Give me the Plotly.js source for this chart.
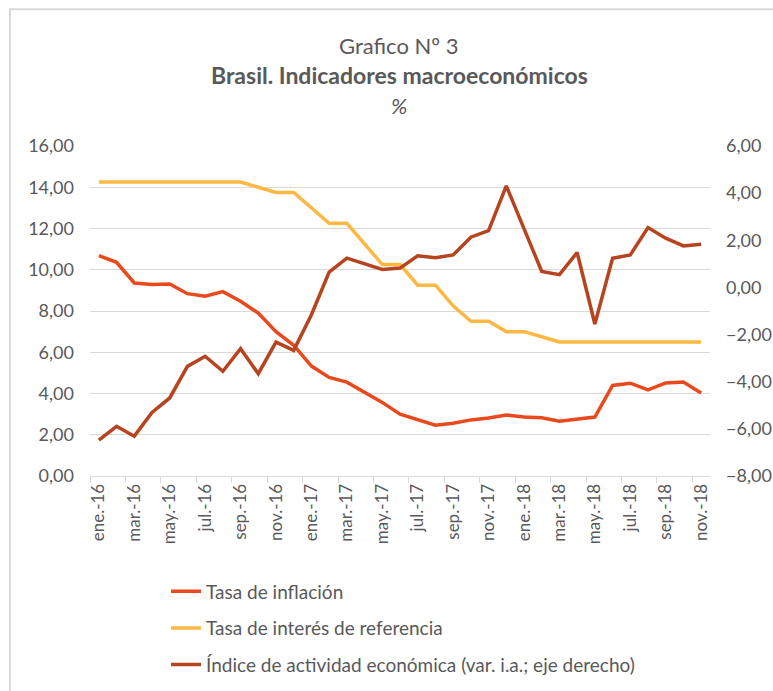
<!DOCTYPE html>
<html>
<head>
<meta charset="utf-8">
<script src="https://cdn.plot.ly/plotly-3.0.1.min.js"></script>
<style>
  html, body { margin: 0; padding: 0; background: #ffffff; }
  #chart { width: 773px; height: 691px; }
</style>
</head>
<body>
<div id="chart"></div>
<script>
const months = [
  "ene.-16","feb.-16","mar.-16","abr.-16","may.-16","jun.-16","jul.-16","ago.-16","sep.-16","oct.-16","nov.-16","dic.-16",
  "ene.-17","feb.-17","mar.-17","abr.-17","may.-17","jun.-17","jul.-17","ago.-17","sep.-17","oct.-17","nov.-17","dic.-17",
  "ene.-18","feb.-18","mar.-18","abr.-18","may.-18","jun.-18","jul.-18","ago.-18","sep.-18","oct.-18","nov.-18"
];

const inflacion = [
  10.68, 10.36, 9.36, 9.28, 9.31, 8.84, 8.72, 8.94, 8.47, 7.90, 7.00, 6.34,
  5.33, 4.78, 4.55, 4.05, 3.57, 3.00, 2.72, 2.46, 2.56, 2.72, 2.81, 2.96,
  2.86, 2.82, 2.66, 2.75, 2.86, 4.39, 4.50, 4.17, 4.51, 4.56, 4.02
];

const tasaInteres = [
  14.25, 14.25, 14.25, 14.25, 14.25, 14.25, 14.25, 14.25, 14.25, 14.00, 13.75, 13.75,
  13.00, 12.25, 12.25, 11.25, 10.25, 10.25, 9.25, 9.25, 8.25, 7.50, 7.50, 7.00,
  7.00, 6.75, 6.50, 6.50, 6.50, 6.50, 6.50, 6.50, 6.50, 6.50, 6.50
];

const actividad = [
  -6.48, -5.89, -6.31, -5.30, -4.69, -3.35, -2.92, -3.56, -2.60, -3.66, -2.32, -2.67,
  -1.16, 0.65, 1.24, 0.99, 0.76, 0.82, 1.34, 1.26, 1.38, 2.13, 2.41, 4.31,
  2.51, 0.68, 0.54, 1.48, -1.55, 1.24, 1.38, 2.54, 2.09, 1.76, 1.83
];

const seriesNames = [
  "Tasa de inflación",
  "Tasa de interés de referencia",
  "Índice de actividad económica (var. i.a.; eje derecho)"
];

const titleLines = [
  "Grafico Nº 3",
  "<b>Brasil. Indicadores macroeconómicos</b>",
  "<i>%</i>"
];

const FONT = "Lato, 'Open Sans', sans-serif";
const TXT = "#595959";
const GRID = "#d9d9d9";

// plot area in pixels
const L = 90, R = 710, T = 146, B = 476.5, W = 773, H = 691;
const px2x = p => (p - L) / (R - L);
const py2y = p => (B - p) / (B - T);

const traces = [
  {
    x: months, y: inflacion, name: seriesNames[0], type: "scatter", mode: "lines",
    line: { color: "#E8491D", width: 3.5 }, yaxis: "y", legendgroup: "a"
  },
  {
    x: months, y: tasaInteres, name: seriesNames[1], type: "scatter", mode: "lines",
    line: { color: "#FDB843", width: 3.5 }, yaxis: "y", legendgroup: "b"
  },
  {
    x: months, y: actividad, name: seriesNames[2], type: "scatter", mode: "lines",
    line: { color: "#B5441F", width: 3.5 }, yaxis: "y2", legendgroup: "c"
  }
];

const titleY = [45, 75, 105];
const titleSize = [22, 23, 22];
const annotations = titleLines.map((t, i) => ({
  text: t, xref: "paper", yref: "paper",
  x: px2x(399), y: py2y(titleY[i]), xanchor: "center", yanchor: "middle",
  showarrow: false,
  font: { family: FONT, size: titleSize[i], color: TXT }
}));

const layout = {
  width: W, height: H,
  margin: { l: L, r: W - R, t: T, b: H - B, pad: 0, autoexpand: false },
  paper_bgcolor: "#ffffff",
  plot_bgcolor: "#ffffff",
  separators: ",.",
  font: { family: FONT, color: TXT },
  showlegend: true,
  legend: {
    x: px2x(166), y: py2y(573), xanchor: "left", yanchor: "top",
    orientation: "v", tracegroupgap: 9,
    font: { family: FONT, size: 19, color: TXT },
    bgcolor: "rgba(0,0,0,0)"
  },
  xaxis: {
    type: "category",
    categoryorder: "array", categoryarray: months,
    range: [-0.5, months.length - 0.5],
    dtick: 2, tick0: 0,
    tickson: "boundaries",
    ticks: "outside", ticklen: 6, tickcolor: GRID, tickwidth: 1,
    showline: true, linecolor: GRID, linewidth: 1,
    showgrid: false, zeroline: false,
    tickangle: -90,
    tickfont: { family: FONT, size: 17, color: TXT },
    automargin: false,
    fixedrange: true
  },
  yaxis: {
    range: [0, 16], dtick: 2, tick0: 0,
    tickformat: ".2f",
    showgrid: true, gridcolor: GRID, gridwidth: 1,
    zeroline: false, showline: false, ticks: "",
    ticklabelstandoff: 15,
    tickfont: { family: FONT, size: 18, color: TXT },
    automargin: false,
    fixedrange: true
  },
  yaxis2: {
    range: [-8, 6], dtick: 2, tick0: 0,
    tickformat: ".2f",
    overlaying: "y", side: "right",
    showgrid: false, zeroline: false, showline: false, ticks: "",
    ticklabelstandoff: 15,
    tickfont: { family: FONT, size: 18, color: TXT },
    automargin: false,
    fixedrange: true
  },
  annotations: annotations,
  shapes: [
    {
      type: "rect", xref: "paper", yref: "paper", layer: "below",
      x0: px2x(10), x1: px2x(790), y0: py2y(720), y1: py2y(9),
      line: { color: GRID, width: 2 }, fillcolor: "rgba(0,0,0,0)"
    }
  ]
};

Plotly.newPlot("chart", traces, layout, { displayModeBar: false, staticPlot: true });
</script>
</body>
</html>
